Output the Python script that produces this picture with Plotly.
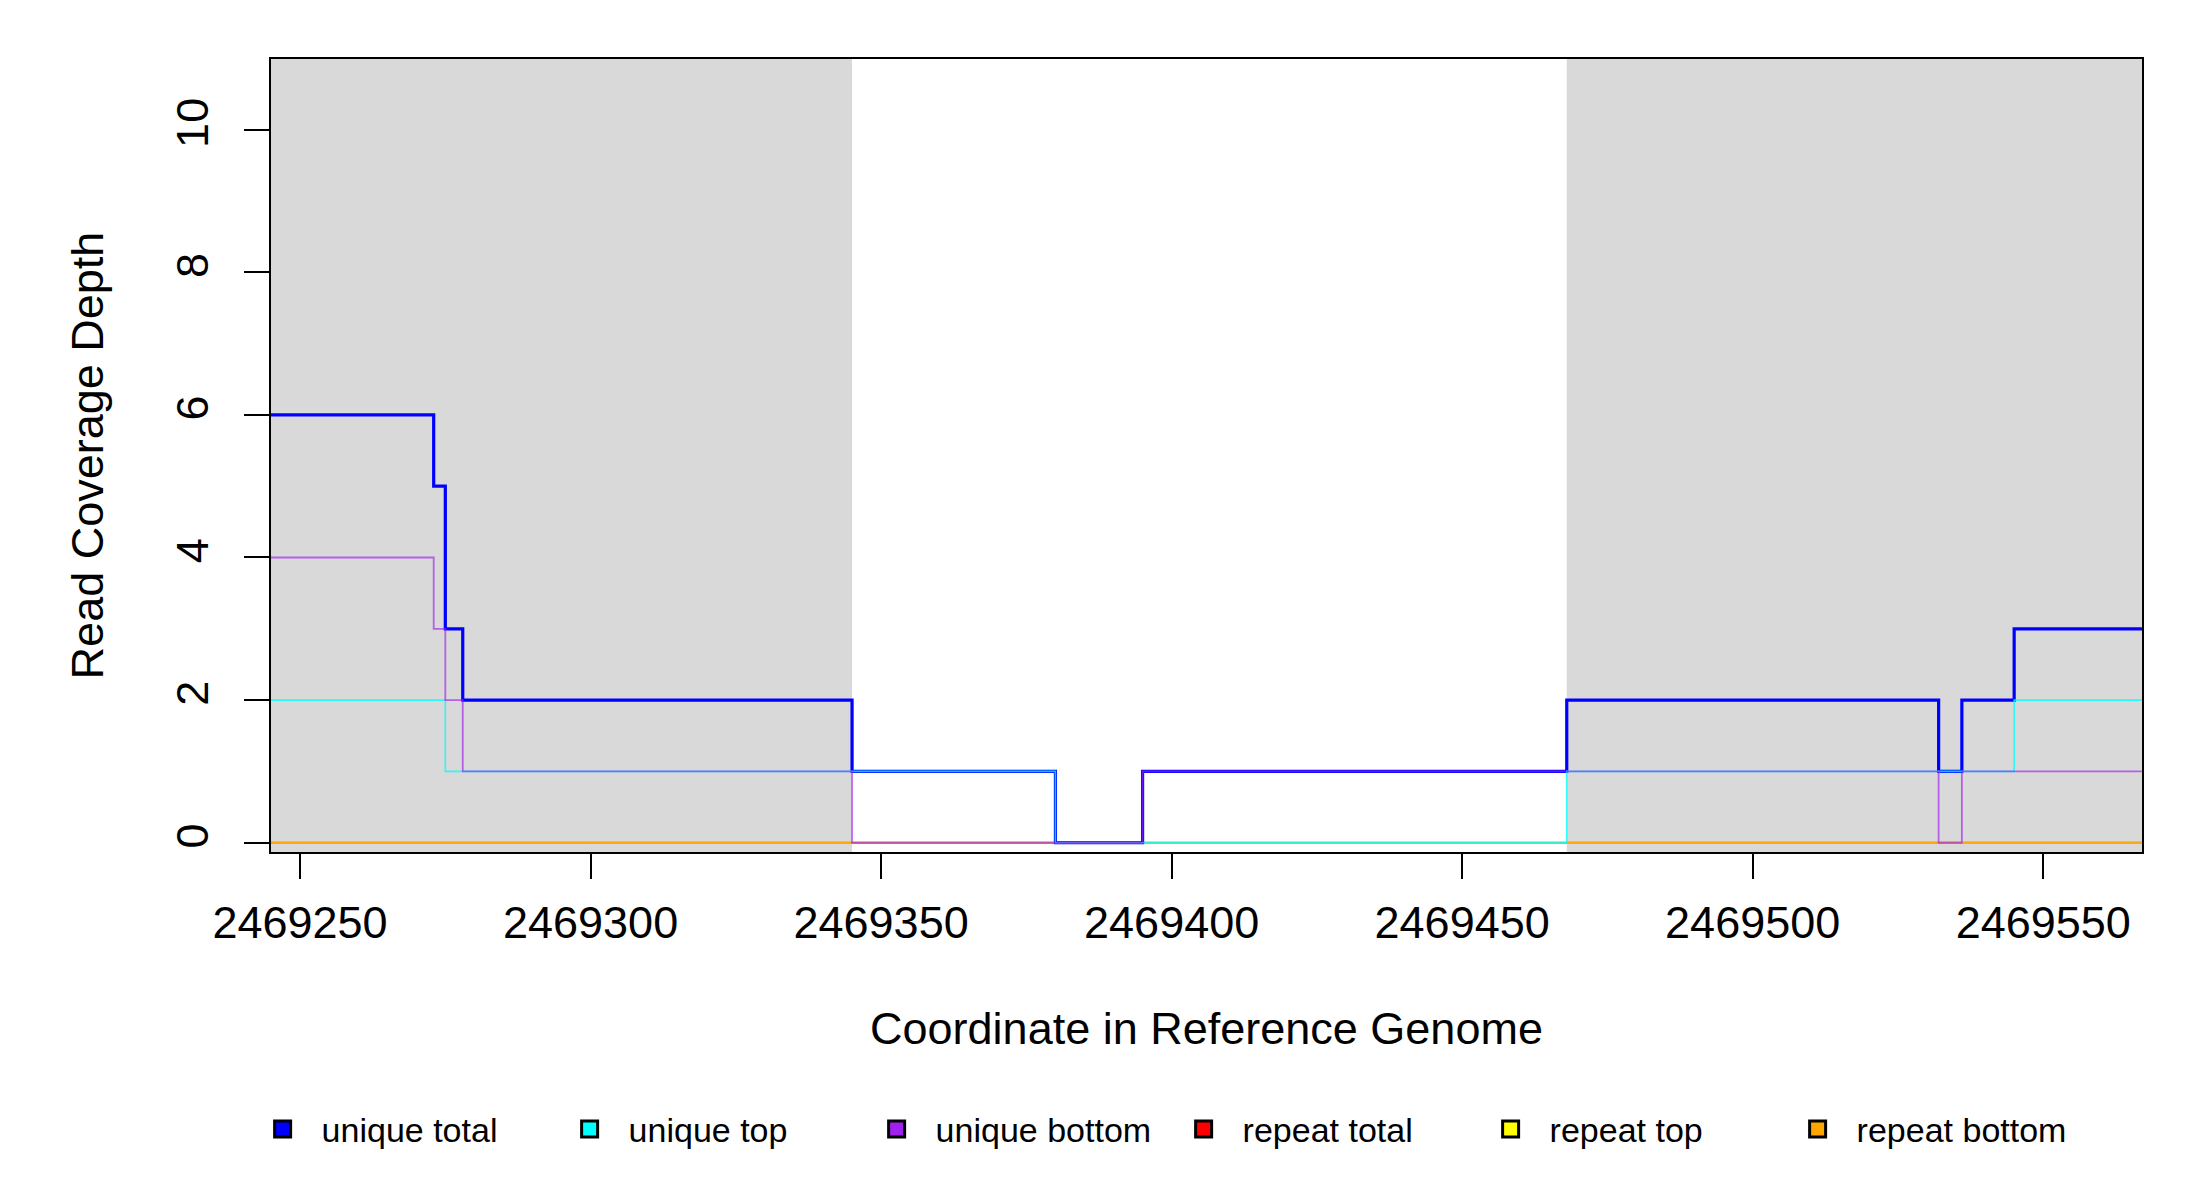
import plotly.graph_objects as go

# coverage data (step breakpoints, value holds until next breakpoint)
x_start = 2469245
x_end = 2469567

unique_total_x = [2469245, 2469273, 2469275, 2469278, 2469345, 2469380, 2469395, 2469468, 2469532, 2469536, 2469545, 2469567]
unique_total_y = [6, 5, 3, 2, 1, 0, 1, 2, 1, 2, 3, 3]

unique_top_x = [2469245, 2469275, 2469380, 2469468, 2469545, 2469567]
unique_top_y = [2, 1, 0, 1, 2, 2]

unique_bottom_x = [2469245, 2469273, 2469275, 2469278, 2469345, 2469395, 2469532, 2469536, 2469567]
unique_bottom_y = [4, 3, 2, 1, 0, 1, 0, 1, 1]

repeat_x = [2469245, 2469567]
repeat_total_y = [0, 0]
repeat_top_y = [0, 0]
repeat_bottom_y = [0, 0]

# shaded (gray) regions
shade_starts = [2469245, 2469468]
shade_ends = [2469345, 2469567]

legend_names = ["unique total", "unique top", "unique bottom", "repeat total", "repeat top", "repeat bottom"]
legend_colors = ["#0000FF", "#00FFFF", "#A020F0", "#FF0000", "#FFFF00", "#FFA500"]

x_ticks = [2469250, 2469300, 2469350, 2469400, 2469450, 2469500, 2469550]
y_ticks = [0, 2, 4, 6, 8, 10]

fig = go.Figure()

# repeats drawn first, unique series on top (semi transparent, so colours mix at 0)
series = [
    (repeat_x, repeat_total_y, "rgba(255,0,0,0.6)", 2),
    (repeat_x, repeat_top_y, "rgba(255,255,0,0.6)", 2),
    (repeat_x, repeat_bottom_y, "rgba(255,165,0,0.85)", 2),
    (unique_total_x, unique_total_y, "rgba(0,0,255,1)", 3.2),
    (unique_top_x, unique_top_y, "rgba(0,255,255,0.8)", 1.6),
    (unique_bottom_x, unique_bottom_y, "rgba(160,32,240,0.65)", 1.8),
]
for xs, ys, col, w in series:
    fig.add_trace(go.Scatter(x=xs, y=ys, mode="lines", line=dict(color=col, width=w, shape="hv"),
                             showlegend=False, hoverinfo="skip"))

# legend entries as filled squares
for name, col in zip(legend_names, legend_colors):
    fig.add_trace(go.Scatter(x=[None], y=[None], mode="markers", name=name,
                             marker=dict(symbol="square", size=22, color=col,
                                         line=dict(color="black", width=3))))

for s, e in zip(shade_starts, shade_ends):
    fig.add_shape(type="rect", xref="x", yref="paper", x0=s, x1=e, y0=0, y1=1,
                  fillcolor="#D9D9D9", line_width=0, layer="below")

fig.update_layout(
    width=2200, height=1200,
    margin=dict(l=263, r=66, t=51, b=356),
    paper_bgcolor="white", plot_bgcolor="white",
    font=dict(family="Liberation Sans, Arial, sans-serif", size=45, color="black"),
    legend=dict(orientation="h", xref="container", yref="container", x=0.1071, y=0.0654,
                xanchor="left", yanchor="middle", font=dict(size=34),
                entrywidth=224, itemwidth=68, itemsizing="trace"),
)
fig.update_xaxes(range=[x_start, x_end], tickvals=x_ticks, ticktext=[str(v) for v in x_ticks],
                 ticks="outside", ticklen=25, tickwidth=1.5, tickcolor="black",
                 showline=True, mirror=True, linecolor="black", linewidth=1.5,
                 showgrid=False, zeroline=False, ticklabelstandoff=5,
                 title=dict(text="Coordinate in Reference Genome", standoff=66, font=dict(size=45)))
fig.update_yaxes(range=[-0.13, 10.99], tickvals=y_ticks, tickangle=-90,
                 ticks="outside", ticklen=25, tickwidth=1.5, tickcolor="black",
                 showline=True, mirror=True, linecolor="black", linewidth=1.5,
                 showgrid=False, zeroline=False, ticklabelstandoff=18,
                 title=dict(text="Read Coverage Depth", standoff=50, font=dict(size=45)))

fig.write_html("out.html")
